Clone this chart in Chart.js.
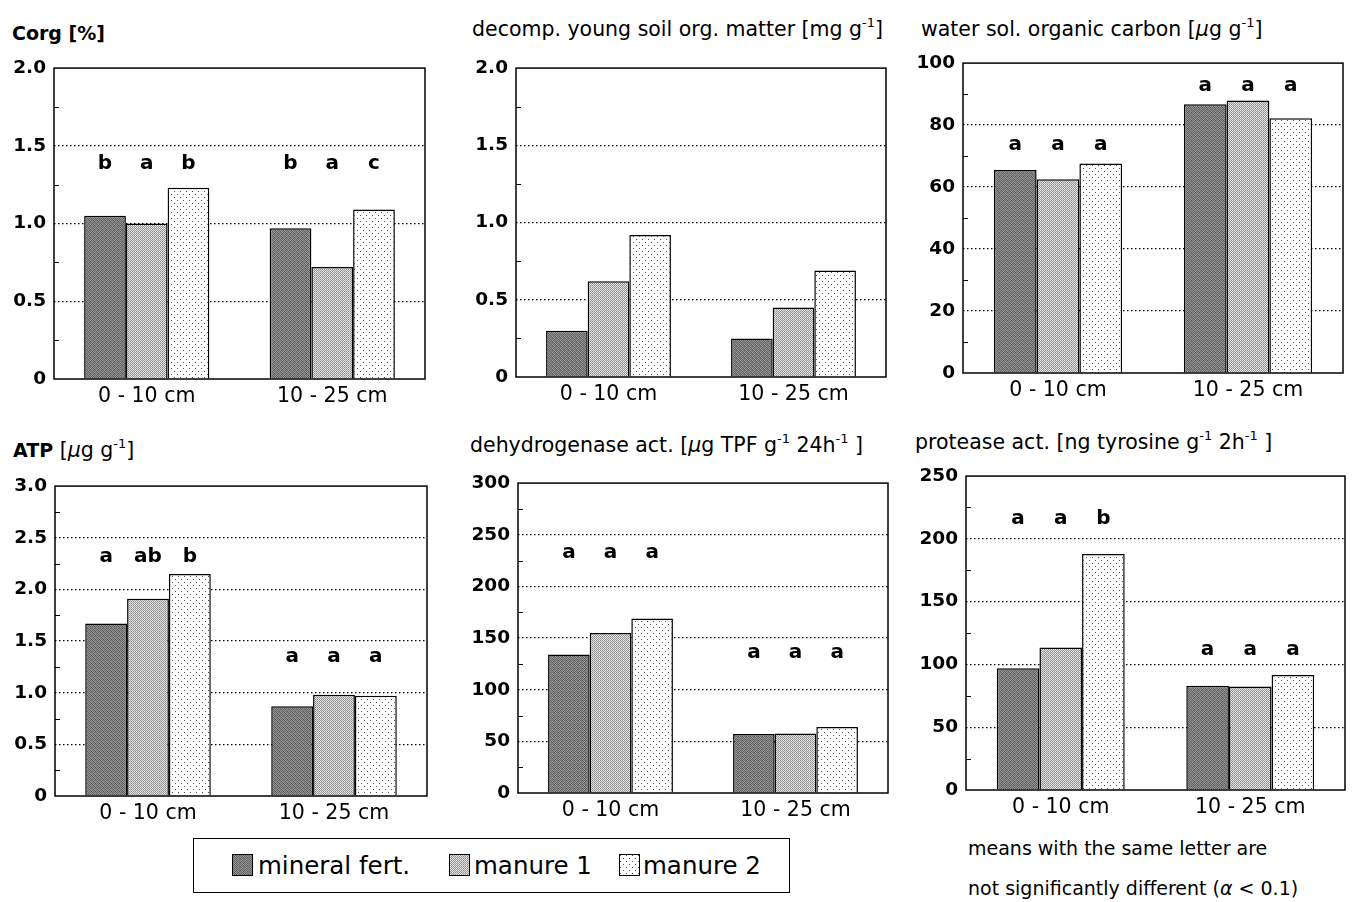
<!DOCTYPE html>
<html>
<head>
<meta charset="utf-8">
<script src="https://cdn.jsdelivr.net/npm/chart.js@4.4.1/dist/chart.umd.min.js"></script>
<style>
  body{margin:0;background:#fff;width:1353px;height:902px;position:relative;overflow:hidden;
       font-family:"DejaVu Sans",sans-serif;color:#000}
  .ttl{position:absolute;font-size:20.5px;line-height:22px;white-space:nowrap}
  .ttl sup{font-size:13px;vertical-align:9px;line-height:0}
  canvas.pn{position:absolute}
  #legbox{position:absolute;left:193px;top:838px;width:597px;height:55px;border:1.5px solid #000;box-sizing:border-box}
  .lg{position:absolute;font-size:24.5px;line-height:28px;white-space:nowrap}
  .sw{position:absolute}
  .note{position:absolute;left:968px;font-size:19px;line-height:22px;white-space:nowrap}
</style>
</head>
<body>
<script>
// categories and series
const depths = ['0 - 10 cm', '10 - 25 cm'];
const treatments = ['mineral fert.', 'manure 1', 'manure 2'];

// Corg [%]
const corgMineral = [1.05, 0.97];
const corgManure1 = [1.00, 0.72];
const corgManure2 = [1.23, 1.09];
const corgTicks = ['0', '0.5', '1.0', '1.5', '2.0'];
const corgLetters = [['b', 'a', 'b'], ['b', 'a', 'c']];
const corgLetterY = [1.35, 1.35];

// decomp. young soil org. matter
const domMineral = [0.30, 0.25];
const domManure1 = [0.62, 0.45];
const domManure2 = [0.92, 0.69];
const domTicks = ['0', '0.5', '1.0', '1.5', '2.0'];

// water sol. organic carbon
const wsocMineral = [65.5, 86.7];
const wsocManure1 = [62.5, 87.9];
const wsocManure2 = [67.6, 82.2];
const wsocTicks = ['0', '20', '40', '60', '80', '100'];
const wsocLetters = [['a', 'a', 'a'], ['a', 'a', 'a']];
const wsocLetterY = [71.8, 91.0];

// ATP
const atpMineral = [1.67, 0.87];
const atpManure1 = [1.91, 0.98];
const atpManure2 = [2.15, 0.97];
const atpTicks = ['0', '0.5', '1.0', '1.5', '2.0', '2.5', '3.0'];
const atpLetters = [['a', 'ab', 'b'], ['a', 'a', 'a']];
const atpLetterY = [2.27, 1.30];

// dehydrogenase act.
const dhaMineral = [134, 57];
const dhaManure1 = [155, 57.5];
const dhaManure2 = [169, 64];
const dhaTicks = ['0', '50', '100', '150', '200', '250', '300'];
const dhaLetters = [['a', 'a', 'a'], ['a', 'a', 'a']];
const dhaLetterY = [227.5, 130.5];

// protease act.
const protMineral = [97, 83];
const protManure1 = [113.5, 82.5];
const protManure2 = [188, 91.5];
const protTicks = ['0', '50', '100', '150', '200', '250'];
const protLetters = [['a', 'a', 'b'], ['a', 'a', 'a']];
const protLetterY = [212, 107.5];

const FONT = '"DejaVu Sans", sans-serif';
const AXW = 52, PADT = 14, PADR = 6, AXH = 34;

function tile(size, draw){
  const c = document.createElement('canvas');
  c.width = c.height = size;
  draw(c.getContext('2d'));
  return c;
}
function px(g, x, y, col){ g.fillStyle = col; g.fillRect(x, y, 1, 1); }

const tileMineral = tile(4, g => {
  const v = ['#5a5a5a','#929292','#6e6e6e','#868686',
             '#8a8a8a','#626262','#989898','#666666',
             '#707070','#8e8e8e','#5e5e5e','#949494',
             '#969696','#6a6a6a','#8c8c8c','#606060'];
  v.forEach((c, i) => px(g, i % 4, (i / 4) | 0, c));
});
const tileManure1 = tile(2, g => {
  px(g,0,0,'#8e8e8e'); px(g,1,0,'#e4e4e4'); px(g,0,1,'#dedede'); px(g,1,1,'#9e9e9e');
});
const tileManure2 = tile(6, g => {
  g.fillStyle = '#fff'; g.fillRect(0,0,6,6);
  px(g,1,1,'#505050'); px(g,4,4,'#505050');
});
const tiles = [tileMineral, tileManure1, tileManure2];

const framePlugin = {
  id: 'frame',
  afterDatasetsDraw(chart){
    const {ctx, chartArea: a} = chart;
    const p = chart.options.plugins.frame;
    ctx.save();
    ctx.strokeStyle = '#000';
    ctx.lineWidth = 1.5;
    ctx.strokeRect(a.left, a.top, a.right - a.left, a.bottom - a.top);
    // minor ticks on the left axis, pointing inwards
    const y = chart.scales.y;
    ctx.lineWidth = 1;
    for (let v = p.step / 2; v < p.max; v += p.step) {
      const yy = Math.round(y.getPixelForValue(v)) + 0.5;
      ctx.beginPath(); ctx.moveTo(a.left, yy); ctx.lineTo(a.left + 5, yy); ctx.stroke();
    }
    ctx.restore();
  }
};

const lettersPlugin = {
  id: 'letters',
  afterDatasetsDraw(chart){
    const p = chart.options.plugins.letters;
    if (!p.letters) return;
    const {ctx} = chart;
    ctx.save();
    ctx.fillStyle = '#000';
    ctx.font = 'bold 20px ' + FONT;
    ctx.textAlign = 'center';
    ctx.textBaseline = 'alphabetic';
    p.letters.forEach((grp, i) => {
      const yy = chart.scales.y.getPixelForValue(p.y[i]);
      grp.forEach((txt, d) => {
        const bar = chart.getDatasetMeta(d).data[i];
        ctx.fillText(txt, bar.x, yy);
      });
    });
    ctx.restore();
  }
};

function makePanel(p){
  const cv = document.createElement('canvas');
  const W = p.R - p.L + AXW + PADR, H = p.B - p.T + PADT + AXH;
  cv.width = W; cv.height = H;
  cv.className = 'pn';
  cv.style.left = (p.L - AXW) + 'px';
  cv.style.top = (p.T - PADT) + 'px';
  cv.style.width = W + 'px'; cv.style.height = H + 'px';
  document.body.appendChild(cv);
  const ctx = cv.getContext('2d');
  const last = p.ticks.length - 1;
  new Chart(cv, {
    type: 'bar',
    data: {
      labels: depths,
      datasets: p.series.map((s, k) => ({
        label: treatments[k], data: s,
        backgroundColor: ctx.createPattern(tiles[k], 'repeat'),
        borderColor: '#000', borderWidth: 1.5
      }))
    },
    options: {
      responsive: false, animation: false, events: [],
      layout: {padding: {top: PADT, right: PADR, left: 0, bottom: 0}},
      datasets: {bar: {barPercentage: 1, categoryPercentage: 0.675}},
      plugins: {
        legend: {display: false}, tooltip: {enabled: false},
        frame: {step: p.step, max: p.max},
        letters: {letters: p.letters, y: p.letterY}
      },
      scales: {
        x: {
          grid: {display: false, drawTicks: false}, border: {display: false},
          ticks: {color: '#000', font: {family: FONT, size: 20.5}, padding: 5},
          afterFit: s => { s.height = AXH; }
        },
        y: {
          min: 0, max: p.max,
          ticks: {stepSize: p.step, color: '#000', padding: 8,
                  font: {family: FONT, size: 18.5, weight: 'bold'},
                  callback: (v, i) => p.ticks[i]},
          grid: {drawTicks: false, lineWidth: 1.2,
                 color: c => (c.index === 0 || c.index === last) ? 'rgba(0,0,0,0)' : '#000'},
          border: {display: false, dash: [1.5, 2.5]},
          afterFit: s => { s.width = AXW; }
        }
      }
    },
    plugins: [framePlugin, lettersPlugin]
  });
}

const panels = [
  {L: 54, R: 425, T: 63, B: 379, max: 2, step: 0.5, ticks: corgTicks,
   series: [corgMineral, corgManure1, corgManure2], letters: corgLetters, letterY: corgLetterY},
  {L: 516, R: 886, T: 63, B: 377, max: 2, step: 0.5, ticks: domTicks,
   series: [domMineral, domManure1, domManure2]},
  {L: 963, R: 1343, T: 58, B: 373, max: 100, step: 20, ticks: wsocTicks,
   series: [wsocMineral, wsocManure1, wsocManure2], letters: wsocLetters, letterY: wsocLetterY},
  {L: 55, R: 427, T: 481, B: 796, max: 3, step: 0.5, ticks: atpTicks,
   series: [atpMineral, atpManure1, atpManure2], letters: atpLetters, letterY: atpLetterY},
  {L: 518, R: 888, T: 478, B: 793, max: 300, step: 50, ticks: dhaTicks,
   series: [dhaMineral, dhaManure1, dhaManure2], letters: dhaLetters, letterY: dhaLetterY},
  {L: 966, R: 1345, T: 471, B: 790, max: 250, step: 50, ticks: protTicks,
   series: [protMineral, protManure1, protManure2], letters: protLetters, letterY: protLetterY}
];
panels.forEach(makePanel);

// panel titles
const titles = [
  [12, 22, '<b style="font-size:19px">Corg [%]</b>'],
  [472, 18, 'decomp. young soil org. matter [mg g<sup>-1</sup>]'],
  [921, 18, 'water sol. organic carbon [<i>µ</i>g g<sup>-1</sup>]'],
  [13, 439, '<b style="font-size:19px">ATP</b> [<i>µ</i>g g<sup>-1</sup>]'],
  [470, 434, 'dehydrogenase act. [<i>µ</i>g TPF g<sup>-1</sup> 24h<sup>-1</sup> ]'],
  [915, 431, 'protease act. [ng tyrosine g<sup>-1</sup> 2h<sup>-1</sup> ]']
];
titles.forEach(([x, y, html]) => {
  const d = document.createElement('div');
  d.className = 'ttl'; d.style.left = x + 'px'; d.style.top = y + 'px';
  d.innerHTML = html;
  document.body.appendChild(d);
});

// legend
const box = document.createElement('div'); box.id = 'legbox'; document.body.appendChild(box);
const legPos = [[232, 258], [449, 474], [619, 643]];
treatments.forEach((t, k) => {
  const sw = document.createElement('canvas');
  sw.width = 21; sw.height = 22; sw.className = 'sw';
  sw.style.left = legPos[k][0] + 'px'; sw.style.top = '854px';
  const g = sw.getContext('2d');
  g.fillStyle = g.createPattern(tiles[k], 'repeat'); g.fillRect(0, 0, 21, 22);
  g.strokeStyle = '#000'; g.lineWidth = 1; g.strokeRect(0.5, 0.5, 20, 21);
  document.body.appendChild(sw);
  const l = document.createElement('div');
  l.className = 'lg'; l.style.left = legPos[k][1] + 'px'; l.style.top = '852px';
  l.textContent = t;
  document.body.appendChild(l);
});

const notes = ['means with the same letter are', 'not significantly different (<i>α</i> &lt; 0.1)'];
notes.forEach((n, i) => {
  const d = document.createElement('div');
  d.className = 'note'; d.style.top = (837 + i * 40) + 'px'; d.innerHTML = n;
  document.body.appendChild(d);
});
</script>
</body>
</html>
